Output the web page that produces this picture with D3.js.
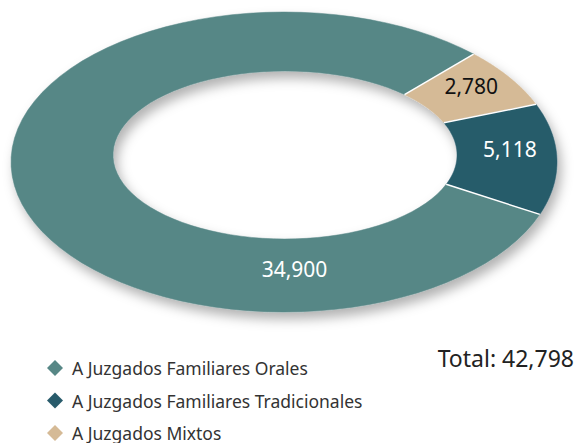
<!DOCTYPE html>
<html>
<head>
<meta charset="utf-8">
<script src="https://cdn.jsdelivr.net/npm/d3@7"></script>
<style>
  body { margin: 0; background: #fff; }
  text { font-family: "Noto Sans", sans-serif; }
</style>
</head>
<body>
<script>
"use strict"

// data, in drawing order (clockwise from the top-right)
const slices = ['A Juzgados Mixtos', 'A Juzgados Familiares Tradicionales', 'A Juzgados Familiares Orales']
const values = [2780, 5118, 34900]
const labels = ['2,780', '5,118', '34,900']
const legend_order = ['A Juzgados Familiares Orales', 'A Juzgados Familiares Tradicionales', 'A Juzgados Mixtos']
const total_label = 'Total: 42,798'

const w = 578
const h = 443
const color = d3.scaleOrdinal(slices, ['#d5ba96', '#285b6b', '#578786'])
const label_color = d3.scaleOrdinal(slices, ['#111', '#fff', '#fff'])

// the ring is drawn in perspective: outer and inner ellipses differ
const outer = {cx: 284, cy: 162, rx: 273, ry: 150}
const inner = {cx: 285, cy: 155, rx: 172, ry: 84}
const pt = (e, a) => [e.cx + e.rx * Math.sin(a), e.cy - e.ry * Math.cos(a)]

const pie = d3.pie().sort(null)
   .startAngle(44 * Math.PI / 180)
   .endAngle(404 * Math.PI / 180)
const arcs = pie(values)

const ring_path = (d) => {
   const n = 80
   const step = (d.endAngle - d.startAngle) / n
   const p = d3.path()
   for (let i = 0; i <= n; i++) {
      const [x, y] = pt(outer, d.startAngle + i * step)
      i === 0 ? p.moveTo(x, y) : p.lineTo(x, y)
   }
   for (let i = n; i >= 0; i--) {
      const [x, y] = pt(inner, d.startAngle + i * step)
      p.lineTo(x, y)
   }
   p.closePath()
   return p.toString()
}

let svg = d3.select('body')
   .append('svg')
      .attr('width', w)
      .attr('height', h)

const defs = svg.append('defs')
defs.append('filter')
      .attr('id', 'shadow')
      .attr('x', '-20%').attr('y', '-20%')
      .attr('width', '140%').attr('height', '150%')
   .append('feDropShadow')
      .attr('dx', 4)
      .attr('dy', 7)
      .attr('stdDeviation', 6)
      .attr('flood-color', '#000')
      .attr('flood-opacity', 0.3)

const ring = svg.append('g').attr('filter', 'url(#shadow)')

ring.selectAll('path')
   .data(arcs)
   .enter()
   .append('path')
      .attr('d', ring_path)
      .attr('fill', (d, i) => color(slices[i]))
      .attr('stroke', (d, i) => color(slices[i]))
      .attr('stroke-width', 0.5)

// thin white separators between slices
svg.selectAll('line.sep')
   .data(arcs)
   .enter()
   .append('line')
      .attr('class', 'sep')
      .attr('x1', d => pt(inner, d.startAngle)[0])
      .attr('y1', d => pt(inner, d.startAngle)[1])
      .attr('x2', d => pt(outer, d.startAngle)[0])
      .attr('y2', d => pt(outer, d.startAngle)[1])
      .attr('stroke', '#fff')
      .attr('stroke-width', 1.5)

svg.selectAll('text.value')
   .data(arcs)
   .enter()
   .append('text')
      .attr('class', 'value')
      .each(function (d, i) {
         // big slice gets its label at the bottom of the ring
         let a = (d.startAngle + d.endAngle) / 2
         if (d.endAngle - d.startAngle > Math.PI) a = Math.PI
         const [ox, oy] = pt(outer, a)
         const [ix, iy] = pt(inner, a)
         d3.select(this)
            .attr('x', (ox + ix) / 2 + (a === Math.PI ? 10 : 3))
            .attr('y', (oy + iy) / 2 - 7)
      })
      .attr('text-anchor', 'middle')
      .attr('dominant-baseline', 'central')
      .attr('font-size', 21)
      .attr('fill', (d, i) => label_color(slices[i]))
      .text((d, i) => labels[i])

const y_legend = d3.scalePoint(legend_order, [368, 433])

const lg = svg.selectAll('g.legend')
   .data(legend_order)
   .enter()
   .append('g')
      .attr('class', 'legend')
      .attr('transform', d => `translate(55, ${y_legend(d)})`)

lg.append('path')
   .attr('d', 'M0,-8L8,0L0,8L-8,0Z')
   .attr('fill', d => color(d))

lg.append('text')
   .attr('x', 17)
   .attr('dominant-baseline', 'central')
   .attr('font-size', 17.5)
   .attr('fill', '#333')
   .text(d => d)

svg.append('text')
   .attr('x', 574)
   .attr('y', 367)
   .attr('text-anchor', 'end')
   .attr('font-size', 23)
   .attr('fill', '#222')
   .text(total_label)
</script>
</body>
</html>
